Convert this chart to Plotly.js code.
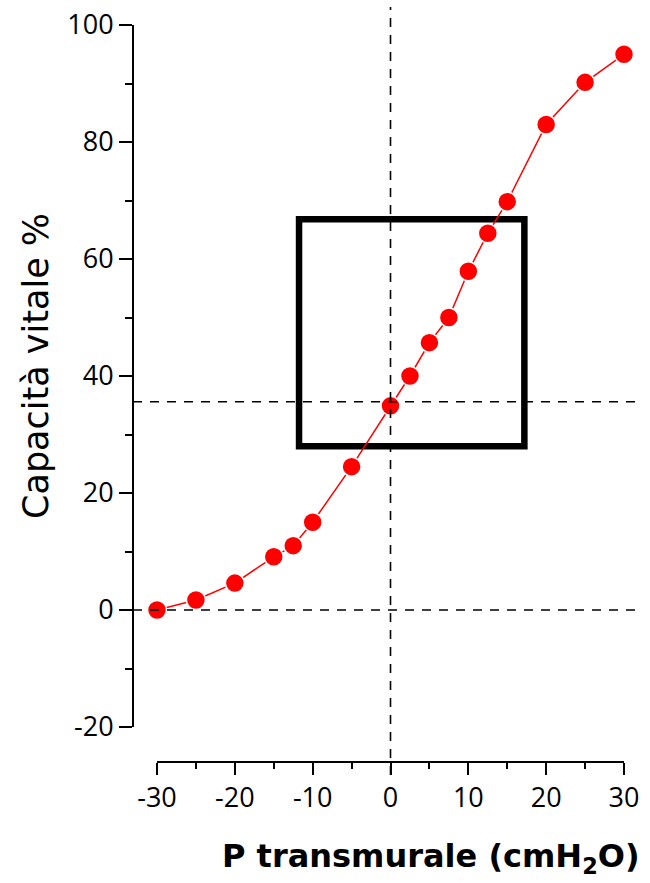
<!DOCTYPE html>
<html>
<head>
<meta charset="utf-8">
<script src="https://cdn.plot.ly/plotly-3.0.1.min.js"></script>
<style>html,body{margin:0;padding:0;background:#fff;}#chart{width:650px;height:883px;}</style>
</head>
<body>
<div id="chart"></div>
<script>
// Data
var pressure = [-30, -25, -20, -15, -12.5, -10, -5, 0, 2.5, 5, 7.5, 10, 12.5, 15, 20, 25, 30];
var vitalCapacity = [0, 1.7, 4.6, 9.1, 11.0, 15.0, 24.5, 34.9, 40.0, 45.7, 50.0, 57.9, 64.4, 69.8, 83.0, 90.2, 95.0];
var xTicks = [-30, -20, -10, 0, 10, 20, 30];
var yTicks = [-20, 0, 20, 40, 60, 80, 100];
var refX = [0];            // vertical dashed reference
var refY = [0, 35.6];      // horizontal dashed references
var boxX = [-11.75, 17.2]; // highlighted box
var boxY = [28.0, 66.8];

var W = 650, H = 883;
var M = {l: 133, r: 26, t: 25, b: 121};
var pw = W - M.l - M.r, ph = H - M.t - M.b;
function px2paperX(p) { return (p - M.l) / pw; }
function px2paperY(p) { return (H - M.b - p) / ph; }

var shapes = [];
refX.forEach(function (v) {
  shapes.push({type: 'line', xref: 'x', yref: 'paper', x0: v, x1: v,
    y0: px2paperY(775), y1: px2paperY(7), layer: 'above',
    line: {color: '#000', width: 1.6, dash: '9px,8px'}});
});
refY.forEach(function (v) {
  shapes.push({type: 'line', xref: 'paper', yref: 'y', x0: 0, x1: px2paperX(640),
    y0: v, y1: v, layer: 'above',
    line: {color: '#000', width: 1.6, dash: '9px,8px'}});
});
shapes.push({type: 'rect', xref: 'x', yref: 'y', x0: boxX[0], x1: boxX[1],
  y0: boxY[0], y1: boxY[1], layer: 'below', line: {color: '#000', width: 6.5}});

var trace = {
  x: pressure, y: vitalCapacity, type: 'scatter', mode: 'lines+markers',
  cliponaxis: false,
  line: {color: '#ff0000', width: 1.5},
  marker: {color: '#ff0000', size: 19, line: {color: '#ffffff', width: 1.5}},
  hoverinfo: 'x+y'
};

var layout = {
  width: W, height: H,
  margin: M,
  paper_bgcolor: '#fff', plot_bgcolor: '#fff',
  showlegend: false,
  font: {family: 'Open Sans, sans-serif', color: '#000'},
  xaxis: {
    domain: [px2paperX(157), 1], anchor: 'free', position: 0,
    range: [-30, 30], tickvals: xTicks, ticktext: xTicks.map(String),
    showline: true, linecolor: '#000', linewidth: 2,
    ticks: 'outside', ticklen: 12, tickwidth: 2, tickcolor: '#000',
    minor: {dtick: 5, ticks: 'outside', ticklen: 6, tickwidth: 2, tickcolor: '#000', showgrid: false},
    showgrid: false, zeroline: false,
    tickfont: {size: 27, family: 'Open Sans, sans-serif', color: '#000'}
  },
  yaxis: {
    domain: [px2paperY(727), 1], anchor: 'free', position: 0,
    range: [-20, 100], tickvals: yTicks, ticktext: yTicks.map(String),
    showline: true, linecolor: '#000', linewidth: 2,
    ticks: 'outside', ticklen: 13, tickwidth: 2, tickcolor: '#000',
    minor: {dtick: 10, ticks: 'outside', ticklen: 7, tickwidth: 2, tickcolor: '#000', showgrid: false},
    showgrid: false, zeroline: false,
    tickfont: {size: 27, family: 'Open Sans, sans-serif', color: '#000'}
  },
  shapes: shapes,
  annotations: [
    {xref: 'paper', yref: 'paper', x: px2paperX(642), y: px2paperY(858),
      xanchor: 'right', yanchor: 'middle', showarrow: false,
      text: '<b>P transmurale (cmH<sub>2</sub>O)</b>',
      font: {family: 'DejaVu Sans, sans-serif', size: 32, color: '#000'}},
    {xref: 'paper', yref: 'paper', x: px2paperX(36), y: px2paperY(366),
      xanchor: 'center', yanchor: 'middle', showarrow: false, textangle: -90,
      text: 'Capacità vitale %',
      font: {family: 'DejaVu Sans, sans-serif', size: 35, color: '#000'}}
  ]
};

Plotly.newPlot('chart', [trace], layout, {displayModeBar: false, staticPlot: true});
</script>
</body>
</html>
